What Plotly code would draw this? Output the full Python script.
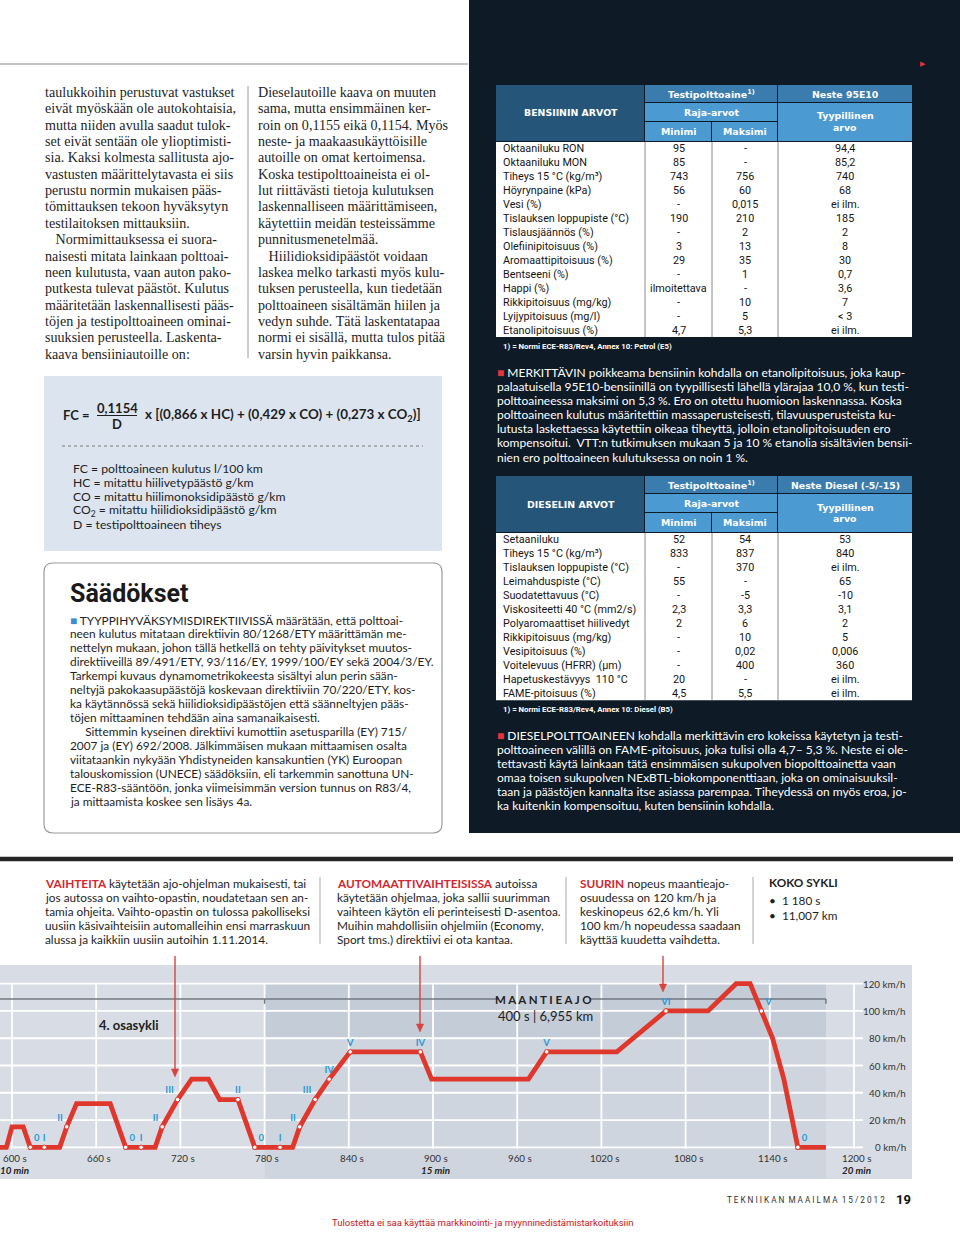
import plotly.graph_objects as go

# ---------------- DATA ----------------
# NEDC speed profile (end of 4th ECE sub-cycle + EUDC)
cycle_time_s = [585, 596, 600, 608, 613, 634, 639, 646, 670, 681,
                702, 707, 718, 728, 740, 748, 761, 773,
                800, 805, 816, 826, 841, 891, 899, 968, 981, 1031,
                1066, 1096, 1116, 1126, 1142, 1150, 1160, 1180]
cycle_speed_kmh = [0, 0, 15, 15, 0, 0, 15, 32, 32, 0,
                   0, 15, 35, 50, 50, 35, 35, 0,
                   0, 15, 35, 50, 70, 70, 50, 50, 70, 70,
                   100, 100, 120, 120, 80, 50, 0, 0]

gear_time_s = [613, 623, 639, 681, 692, 707, 718, 761, 773, 791, 805, 816, 826, 841, 891, 981, 1066, 1134, 1160]
gear_speed_kmh = [0, 0, 15, 0, 0, 15, 35, 35, 0, 0, 15, 35, 50, 70, 70, 70, 100, 100, 0]
gear_label = ["0", "I", "II", "0", "I", "II", "III", "II", "0", "I", "II", "III", "IV", "V", "IV", "V", "VI", "V", "0"]

x_tick_s = [600, 660, 720, 780, 840, 900, 960, 1020, 1080, 1140, 1200]
x_tick_labels = ["600 s", "660 s", "720 s", "780 s", "840 s", "900 s", "960 s", "1020 s", "1080 s", "1140 s", "1200 s"]
minute_ticks_s = [600, 900, 1200]
minute_labels = ["10 min", "15 min", "20 min"]
y_tick_kmh = [0, 20, 40, 60, 80, 100, 120]
y_tick_labels = ["0 km/h", "20 km/h", "40 km/h", "60 km/h", "80 km/h", "100 km/h", "120 km/h"]

road_part_start_s = 780
road_part_end_s = 1180

petrol_props = ["Oktaaniluku RON", "Oktaaniluku MON", "Tiheys 15 °C (kg/m³)", "Höyrynpaine (kPa)", "Vesi (%)",
                "Tislauksen loppupiste (°C)", "Tislausjäännös (%)", "Olefiinipitoisuus (%)",
                "Aromaattipitoisuus (%)", "Bentseeni (%)", "Happi (%)", "Rikkipitoisuus (mg/kg)",
                "Lyijypitoisuus (mg/l)", "Etanolipitoisuus (%)"]
petrol_min = ["95", "85", "743", "56", "-", "190", "-", "3", "29", "-", "ilmoitettava", "-", "-", "4,7"]
petrol_max = ["-", "-", "756", "60", "0,015", "210", "2", "13", "35", "1", "-", "10", "5", "5,3"]
petrol_typ = ["94,4", "85,2", "740", "68", "ei ilm.", "185", "2", "8", "30", "0,7", "3,6", "7", "< 3", "ei ilm."]

diesel_props = ["Setaaniluku", "Tiheys 15 °C (kg/m³)", "Tislauksen loppupiste (°C)", "Leimahduspiste (°C)",
                "Suodatettavuus (°C)", "Viskositeetti 40 °C (mm2/s)", "Polyaromaattiset hiilivedyt",
                "Rikkipitoisuus (mg/kg)", "Vesipitoisuus (%)", "Voitelevuus (HFRR) (µm)",
                "Hapetuskestävyys  110 °C", "FAME-pitoisuus (%)"]
diesel_min = ["52", "833", "-", "55", "-", "2,3", "2", "-", "-", "-", "20", "4,5"]
diesel_max = ["54", "837", "370", "-", "-5", "3,3", "6", "10", "0,02", "400", "-", "5,5"]
diesel_typ = ["53", "840", "ei ilm.", "65", "-10", "3,1", "2", "5", "0,006", "360", "ei ilm.", "ei ilm."]

# ---------------- TEXT ----------------
col1_lines = ["taulukkoihin perustuvat vastukset", "eivät myöskään ole autokohtaisia,",
              "mutta niiden avulla saadut tulok-", "set eivät sentään ole ylioptimisti-",
              "sia. Kaksi kolmesta sallitusta ajo-", "vastusten määrittelytavasta ei siis",
              "perustu normin mukaisen pääs-", "tömittauksen tekoon hyväksytyn",
              "testilaitoksen mittauksiin.", "   Normimittauksessa ei suora-",
              "naisesti mitata lainkaan polttoai-", "neen kulutusta, vaan auton pako-",
              "putkesta tulevat päästöt. Kulutus", "määritetään laskennallisesti pääs-",
              "töjen ja testipolttoaineen ominai-", "suuksien perusteella. Laskenta-",
              "kaava bensiiniautoille on:"]
col2_lines = ["Dieselautoille kaava on muuten", "sama, mutta ensimmäinen ker-",
              "roin on 0,1155 eikä 0,1154. Myös", "neste- ja maakaasukäyttöisille",
              "autoille on omat kertoimensa.", "Koska testipolttoaineista ei ol-",
              "lut riittävästi tietoja kulutuksen", "laskennalliseen määrittämiseen,",
              "käytettiin meidän testeissämme", "punnitusmenetelmää.",
              "   Hiilidioksidipäästöt voidaan", "laskea melko tarkasti myös kulu-",
              "tuksen perusteella, kun tiedetään", "polttoaineen sisältämän hiilen ja",
              "vedyn suhde. Tätä laskentatapaa", "normi ei sisällä, mutta tulos pitää",
              "varsin hyvin paikkansa."]
formula_defs = ["FC = polttoaineen kulutus l/100 km", "HC = mitattu hiilivetypäästö g/km",
                "CO = mitattu hiilimonoksidipäästö g/km", "CO<sub>2</sub> = mitattu hiilidioksidipäästö g/km",
                "D = testipolttoaineen tiheys"]
saad_lines = ["<span style='color:#3d8fd1'>■</span> TYYPPIHYVÄKSYMISDIREKTIIVISSÄ määrätään, että polttoai-",
              "neen kulutus mitataan direktiivin 80/1268/ETY määrittämän me-",
              "nettelyn mukaan, johon tällä hetkellä on tehty päivitykset muutos-",
              "direktiiveillä 89/491/ETY, 93/116/EY, 1999/100/EY sekä 2004/3/EY.",
              "Tarkempi kuvaus dynamometrikokeesta sisältyi alun perin sään-",
              "neltyjä pakokaasupäästöjä koskevaan direktiiviin 70/220/ETY, kos-",
              "ka käytännössä sekä hiilidioksidipäästöjen että säänneltyjen pääs-",
              "töjen mittaaminen tehdään aina samanaikaisesti.",
              "     Sittemmin kyseinen direktiivi kumottiin asetusparilla (EY) 715/",
              "2007 ja (EY) 692/2008. Jälkimmäisen mukaan mittaamisen osalta",
              "viitataankin nykyään Yhdistyneiden kansakuntien (YK) Euroopan",
              "talouskomission (UNECE) säädöksiin, eli tarkemmin sanottuna UN-",
              "ECE-R83-sääntöön, jonka viimeisimmän version tunnus on R83/4,",
              "ja mittaamista koskee sen lisäys 4a."]
merk_lines = ["<span style='color:#e2343a'>■</span> MERKITTÄVIN poikkeama bensiinin kohdalla on etanolipitoisuus, joka kaup-",
              "palaatuisella 95E10-bensiinillä on tyypillisesti lähellä ylärajaa 10,0 %, kun testi-",
              "polttoaineessa maksimi on 5,3 %. Ero on otettu huomioon laskennassa. Koska",
              "polttoaineen kulutus määritettiin massaperusteisesti, tilavuusperusteista ku-",
              "lutusta laskettaessa käytettiin oikeaa tiheyttä, jolloin etanolipitoisuuden ero",
              "kompensoitui.  VTT:n tutkimuksen mukaan 5 ja 10 % etanolia sisältävien bensii-",
              "nien ero polttoaineen kulutuksessa on noin 1 %."]
dies_lines = ["<span style='color:#e2343a'>■</span> DIESELPOLTTOAINEEN kohdalla merkittävin ero kokeissa käytetyn ja testi-",
              "polttoaineen välillä on FAME-pitoisuus, joka tulisi olla 4,7– 5,3 %. Neste ei ole-",
              "tettavasti käytä lainkaan tätä ensimmäisen sukupolven biopolttoainetta vaan",
              "omaa toisen sukupolven NExBTL-biokomponenttiaan, joka on ominaisuuksil-",
              "taan ja päästöjen kannalta itse asiassa parempaa. Tiheydessä on myös eroa, jo-",
              "ka kuitenkin kompensoituu, kuten bensiinin kohdalla."]
RED_T = "#d4262e"
b1_lines = [f"<b><span style='color:{RED_T}'>VAIHTEITA</span></b> käytetään ajo-ohjelman mukaisesti, tai",
            "jos autossa on vaihto-opastin, noudatetaan sen an-",
            "tamia ohjeita. Vaihto-opastin on tulossa pakolliseksi",
            "uusiin käsivaihteisiin automalleihin ensi marraskuun",
            "alussa ja kaikkiin uusiin autoihin 1.11.2014."]
b2_lines = [f"<b><span style='color:{RED_T}'>AUTOMAATTIVAIHTEISISSA</span></b> autoissa",
            "käytetään ohjelmaa, joka sallii suurimman",
            "vaihteen käytön eli perinteisesti D-asentoa.",
            "Muihin mahdollisiin ohjelmiin (Economy,",
            "Sport tms.) direktiivi ei ota kantaa."]
b3_lines = [f"<b><span style='color:{RED_T}'>SUURIN</span></b> nopeus maantieajo-",
            "osuudessa on 120 km/h ja",
            "keskinopeus 62,6 km/h. Yli",
            "100 km/h nopeudessa saadaan",
            "käyttää kuudetta vaihdetta."]

# ---------------- HELPERS ----------------
W, H = 960, 1239
SANS = "Lato"
SERIF = "Liberation Serif"
HEAD = "DejaVu Sans"
DARK = "#0e1a25"

annotations = []
shapes = []


def X(px):
    return px / W


def Y(py):
    return 1 - py / H


def text(x, y, s, size=12.0, color="#222", family=SANS, xanchor="left", weight=None, yanchor="middle"):
    f = dict(size=size, color=color, family=family)
    if weight:
        f["weight"] = weight
    annotations.append(dict(x=X(x), y=Y(y), xref="paper", yref="paper", text=s, showarrow=False,
                            xanchor=xanchor, yanchor=yanchor, font=f, align="left", borderpad=0))


def rect(x0, y0, x1, y1, fill, lw=0, lc="rgba(0,0,0,0)"):
    shapes.append(dict(type="rect", xref="paper", yref="paper", x0=X(x0), x1=X(x1), y0=Y(y1), y1=Y(y0),
                       fillcolor=fill, line=dict(width=lw, color=lc), layer="below"))


def pline(x0, y0, x1, y1, color, width=1.0, dash="solid", layer="below"):
    shapes.append(dict(type="line", xref="paper", yref="paper", x0=X(x0), x1=X(x1), y0=Y(y0), y1=Y(y1),
                       line=dict(color=color, width=width, dash=dash), layer=layer))


def rounded(x0, y0, x1, y1, r, fill, lc, lw):
    xa, xb, ya, yb = X(x0), X(x1), Y(y0), Y(y1)
    rx, ry = r / W, r / H
    p = (f"M {xa+rx},{ya} L {xb-rx},{ya} Q {xb},{ya} {xb},{ya-ry} L {xb},{yb+ry} Q {xb},{yb} {xb-rx},{yb} "
         f"L {xa+rx},{yb} Q {xa},{yb} {xa},{yb+ry} L {xa},{ya-ry} Q {xa},{ya} {xa+rx},{ya} Z")
    shapes.append(dict(type="path", xref="paper", yref="paper", path=p, fillcolor=fill,
                       line=dict(color=lc, width=lw), layer="below"))


def arrow_down(x, y_top, y_head, color):
    pline(x, y_top, x, y_head - 6, color, 1.4, layer="above")
    p = (f"M {X(x-3.6)},{Y(y_head-8)} L {X(x+3.6)},{Y(y_head-8)} L {X(x)},{Y(y_head)} Z")
    shapes.append(dict(type="path", xref="paper", yref="paper", path=p, fillcolor=color,
                       line=dict(color=color, width=0.5), layer="above"))


# ---------------- PAGE: TOP LEFT ----------------
pline(0, 64, 468, 64, "#8a8a8a", 1.2)
for i, s in enumerate(col1_lines):
    text(44, 92 + i * 16.35, s, 14.1, "#1e1e1e", SERIF)
for i, s in enumerate(col2_lines):
    text(257, 92 + i * 16.35, s, 14.1, "#1e1e1e", SERIF)
pline(248, 86, 248, 358, "#9a9a9a", 1)

# formula box
rect(44, 376, 442, 551, "#dce5ef")
text(62, 415, "<b>FC =</b>", 13, "#1e1e1e")
text(117, 408, "<b>0,1154</b>", 13, "#1e1e1e", xanchor="center")
pline(97, 415.5, 137, 415.5, "#1e1e1e", 1)
text(117, 424, "<b>D</b>", 13, "#1e1e1e", xanchor="center")
text(144, 415, "<b>x [(0,866 x HC) + (0,429 x CO) + (0,273 x CO<sub>2</sub>)]</b>", 13.4, "#1e1e1e")
pline(62, 446, 423, 446, "#7a7a7a", 1, "dot")
for i, s in enumerate(formula_defs):
    text(72, 469 + i * 13.9, s, 12.2, "#1e1e1e")

# Säädökset box
rounded(44, 563, 442, 833, 9, "white", "#9a9a9a", 1.2)
text(69, 593, "Säädökset", 25, "#1a1a1a", "Roboto", weight="bold")
for i, s in enumerate(saad_lines):
    text(69, 620 + i * 13.95, s, 11.85, "#1e1e1e")

# ---------------- PAGE: DARK PANEL ----------------
rect(469, 0, 960, 833, DARK)
text(923, 63, "▶", 7, "#e2343a", xanchor="center")

BL_DARK = "#255679"
BL_MID = "#3a7cad"
BL_LIGHT = "#4c9ad2"


def fuel_table(top, title, right_title, props, vmin, vmax, vtyp, foot):
    x0, c1, c2, c3, x1 = 496, 645, 712, 778, 912
    r1, r2, r3 = top + 18, top + 37, top + 56
    rect(x0, top, c1 - 1, r3, BL_DARK)
    rect(c1, top, c3 - 1, r1 - 1, BL_MID)
    rect(c3, top, x1, r1 - 1, BL_MID)
    rect(c1, r1, c3 - 1, r2 - 1, BL_LIGHT)
    rect(c3, r1, x1, r3, BL_LIGHT)
    rect(c1, r2, c2 - 1, r3, BL_LIGHT)
    rect(c2, r2, c3 - 1, r3, BL_LIGHT)
    hf = dict(size=9.4, color="white", family=HEAD, weight="bold")
    text((x0 + c1) / 2, (top + r3) / 2, title, **hf, xanchor="center")
    text((c1 + c3) / 2, (top + r1) / 2, "Testipolttoaine<sup>1)</sup>", **hf, xanchor="center")
    text((c3 + x1) / 2, (top + r1) / 2, right_title, **hf, xanchor="center")
    text((c1 + c3) / 2, (r1 + r2) / 2, "Raja-arvot", **hf, xanchor="center")
    text((c1 + c2) / 2, (r2 + r3) / 2, "Minimi", **hf, xanchor="center")
    text((c2 + c3) / 2, (r2 + r3) / 2, "Maksimi", **hf, xanchor="center")
    text((c3 + x1) / 2, (r1 + r3) / 2 - 6, "Tyypillinen", **hf, xanchor="center")
    text((c3 + x1) / 2, (r1 + r3) / 2 + 6, "arvo", **hf, xanchor="center")
    rh = 13.93
    bottom = r3 + 1 + rh * len(props)
    rect(x0, r3 + 1, x1, bottom, "white")
    for cx in (c1, c2, c3):
        pline(cx, r3 + 1, cx, bottom, "#8c8c8c", 1)
    for i in range(len(props)):
        yc = r3 + 1 + (i + 0.5) * rh
        text(502, yc, props[i], 10.8, "#151515", "Roboto")
        text((c1 + c2) / 2, yc, vmin[i], 10.8, "#151515", "Roboto", xanchor="center")
        text((c2 + c3) / 2, yc, vmax[i], 10.8, "#151515", "Roboto", xanchor="center")
        text((c3 + x1) / 2, yc, vtyp[i], 10.8, "#151515", "Roboto", xanchor="center")
    text(502, bottom + 9, foot, 7.8, "white", "Roboto", weight="bold")


fuel_table(85, "BENSIININ ARVOT", "Neste 95E10", petrol_props, petrol_min, petrol_max, petrol_typ,
           "1) = Normi ECE-R83/Rev4, Annex 10: Petrol (E5)")
fuel_table(476, "DIESELIN ARVOT", "Neste Diesel (-5/-15)", diesel_props, diesel_min, diesel_max, diesel_typ,
           "1) = Normi ECE-R83/Rev4, Annex 10: Diesel (B5)")

for i, s in enumerate(merk_lines):
    text(496, 372 + i * 14.2, s, 12.0, "white")
for i, s in enumerate(dies_lines):
    text(496, 735 + i * 14.1, s, 12.0, "white")

# ---------------- BOTTOM TEXT ROW ----------------
pline(0, 859, 953, 859, "#262626", 4.5)
for i, s in enumerate(b1_lines):
    text(44, 883 + i * 14.1, s, 11.8, "#1e1e1e")
for i, s in enumerate(b2_lines):
    text(336, 883 + i * 14.1, s, 11.8, "#1e1e1e")
for i, s in enumerate(b3_lines):
    text(579, 883 + i * 14.1, s, 11.8, "#1e1e1e")
for xd in (320, 566, 753):
    pline(xd, 877, xd, 944, "#a8a8a8", 1)
text(768, 882, "<b>KOKO SYKLI</b>", 11.8, "#1e1e1e")
text(768, 900, "•  1 180 s", 11.8, "#1e1e1e")
text(768, 915, "•  11,007 km", 11.8, "#1e1e1e")

# ---------------- FOOTER ----------------
text(886, 1200, "T E K N I I K A N  M A A I L M A  1 5 / 2 0 1 2", 8.2, "#333", "Roboto", xanchor="right")
text(895, 1199, "<b>19</b>", 13, "#111", "Roboto")
text(482, 1222, "Tulostetta ei saa käyttää markkinointi- ja myynninedistämistarkoituksiin", 9.5,
     "#c4161c", "Roboto", xanchor="center")

# ---------------- CHART ----------------
PX_PER_S = 842 / 600
S0 = 600 - 12 / PX_PER_S
PX_PER_KMH = 163.6 / 120
ZERO_PY = 1147.3
CH_TOP, CH_BOT, CH_RIGHT = 965, 1179, 912
x_range = [S0, S0 + CH_RIGHT / PX_PER_S]
y_range = [-(CH_BOT - ZERO_PY) / PX_PER_KMH, (ZERO_PY - CH_TOP) / PX_PER_KMH]


def cs(px):
    return S0 + px / PX_PER_S


def ck(py):
    return (ZERO_PY - py) / PX_PER_KMH


def dshape(**kw):
    d = dict(xref="x", yref="y", layer="below")
    d.update(kw)
    shapes.append(d)


# shaded road-driving part
dshape(type="rect", x0=road_part_start_s, x1=road_part_end_s, y0=y_range[0], y1=y_tick_kmh[-1],
       fillcolor="#ced5de", line=dict(width=0))
dshape(type="rect", x0=road_part_start_s, x1=road_part_end_s, y0=80, y1=y_tick_kmh[-1],
       fillcolor="#c4ccd7", line=dict(width=0))
# gridlines
for t in x_tick_s:
    dshape(type="line", x0=t, x1=t, y0=y_tick_kmh[0] - 1, y1=y_tick_kmh[-1], line=dict(color="white", width=1.8))
for v in y_tick_kmh:
    dshape(type="line", x0=x_range[0], x1=cs(863), y0=v, y1=v, line=dict(color="white", width=1.8))

# bracket line for MAANTIEAJO
yb = ck(999)
dshape(type="line", x0=x_range[0], x1=cs(498), y0=yb, y1=yb, line=dict(color="#727880", width=1.5))
dshape(type="line", x0=cs(590), x1=road_part_end_s, y0=yb, y1=yb, line=dict(color="#727880", width=1.5))
for t in (road_part_start_s, road_part_end_s):
    dshape(type="line", x0=t, x1=t, y0=yb, y1=yb - 3.5, line=dict(color="#727880", width=1.5))


def ctext(xs, yk, s, size=10, color="#333", xanchor="center", weight=None, family=SANS):
    f = dict(size=size, color=color, family=family)
    if weight:
        f["weight"] = weight
    annotations.append(dict(x=xs, y=yk, xref="x", yref="y", text=s, showarrow=False, xanchor=xanchor,
                            yanchor="middle", font=f, borderpad=0))


ctext(cs(543), ck(999), "<b>M A A N T I E A J O</b>", 11.5, "#222")
ctext(cs(545), ck(1016), "400 s | 6,955 km", 13, "#222")
ctext(cs(98), ck(1025), "<b>4. osasykli</b>", 13, "#222", xanchor="left")

for t, lab in zip(x_tick_s, x_tick_labels):
    ctext(t + 2, ck(1158), lab, 9.8, "#333")
for t, lab in zip(minute_ticks_s, minute_labels):
    ctext(t + 2, ck(1170), f"<b><i>{lab}</i></b>", 9.8, "#222")
for v, lab in zip(y_tick_kmh, y_tick_labels):
    ctext(cs(907), v, lab, 9.8, "#333", xanchor="right")

RED = "#e0372d"
fig = go.Figure()
fig.add_trace(go.Scatter(x=cycle_time_s, y=cycle_speed_kmh, mode="lines",
                         line=dict(color=RED, width=4.8), hoverinfo="skip"))
gear_pos = []
for t, v, lab in zip(gear_time_s, gear_speed_kmh, gear_label):
    if lab == "0":
        gear_pos.append("top right")
    elif v in (15, 35) and t not in (761,):
        gear_pos.append("top left")
    elif t == 1134:
        gear_pos.append("top right")
    else:
        gear_pos.append("top center")
fig.add_trace(go.Scatter(x=gear_time_s, y=gear_speed_kmh, mode="markers+text", text=gear_label,
                         textposition=gear_pos,
                         textfont=dict(color="#2a9ad6", size=9.5, family=SANS, weight="bold"),
                         marker=dict(size=4.5, color="white", line=dict(color=RED, width=1)),
                         hoverinfo="skip", cliponaxis=False))

# red pointer arrows from the text above
for ax_px, head_py in ((175, 1077), (420, 1032), (663, 992)):
    arrow_down(ax_px, 956, head_py, "#d8433d")

fig.update_layout(
    width=W, height=H, autosize=False,
    margin=dict(l=0, r=0, t=0, b=0, pad=0),
    paper_bgcolor="white", plot_bgcolor="#d8dde5",
    showlegend=False,
    xaxis=dict(domain=[0, CH_RIGHT / W], range=x_range, visible=False, fixedrange=True),
    yaxis=dict(domain=[1 - CH_BOT / H, 1 - CH_TOP / H], range=y_range, visible=False, fixedrange=True),
    shapes=shapes, annotations=annotations,
)
fig.write_html("out.html", config={"displayModeBar": False, "staticPlot": True},
               post_script="document.body.style.margin='0';document.body.style.overflow='hidden';")
